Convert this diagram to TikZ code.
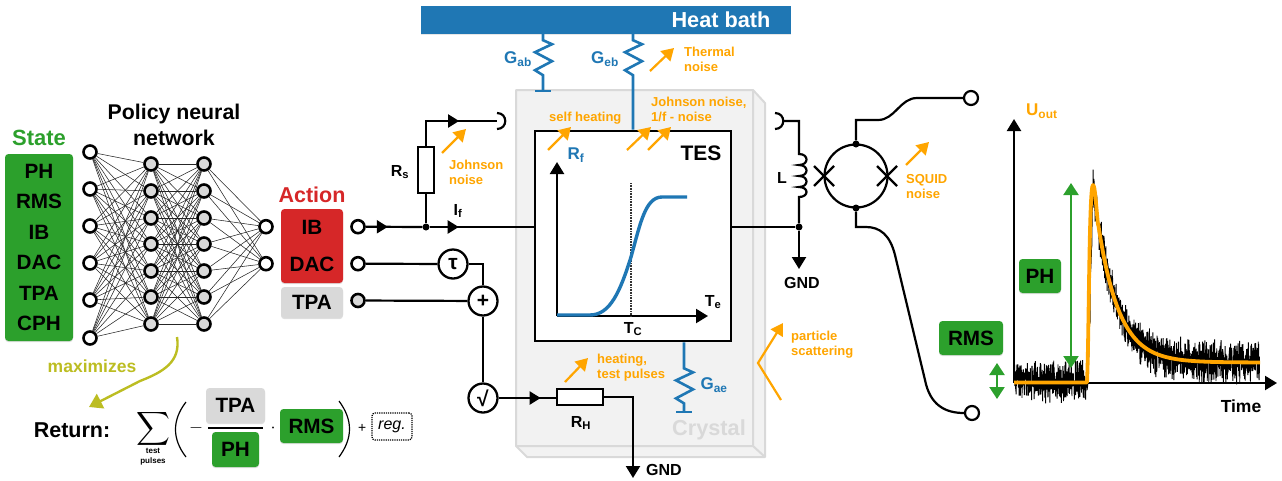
\documentclass[tikz,border=0pt]{standalone}
\usepackage{fontspec}
\setmainfont{Liberation Sans}
\usetikzlibrary{arrows.meta,decorations.markings,shadows,calc}
\definecolor{tgreen}{HTML}{2CA02C}
\definecolor{tred}{HTML}{D62728}
\definecolor{tblue}{HTML}{1F77B4}
\definecolor{tgray}{HTML}{D9D9D9}
\definecolor{tolive}{HTML}{BCBD22}
\definecolor{torange}{HTML}{FFA500}
\definecolor{tcrystal}{HTML}{F2F2F2}
\newcommand{\fsz}[2]{\fontsize{#1}{#2}\selectfont\bfseries}
\tikzset{
  x=1pt,y=-1pt,
  wire/.style={line width=2.2pt,black,line join=miter},
  bwire/.style={line width=2.6pt,tblue},
  neuron/.style={circle,draw=black,line width=2.6pt,fill=white,minimum size=13pt,inner sep=0},
  hneuron/.style={neuron,fill=tgray},
  nnline/.style={line width=.55pt,black!85},
  opnode/.style={circle,draw=black,line width=2.3pt,fill=white,minimum size=29pt,inner sep=0,font=\fsz{21}{21}},
  dotj/.style={circle,fill=black,minimum size=7pt,inner sep=0},
  chip/.style={rounded corners=3.5pt,inner sep=0,text=black,align=center,
     drop shadow={shadow xshift=0pt,shadow yshift=-1.2pt,opacity=.25}},
  gchip/.style={chip,fill=tgreen},
  rchip/.style={chip,fill=tred},
  gychip/.style={chip,fill=tgray},
  tip/.style={-{Triangle[length=12pt,width=14pt]}},
  midtip/.style={postaction={decorate},decoration={markings,mark=at position #1 with {\arrow{Triangle[length=11pt,width=13pt]}}}},
  noisearr/.style={line width=2.2pt,torange,-{Triangle[length=12pt,width=14pt]}},
  otext/.style={text=torange,anchor=west,align=left,inner sep=0,font=\fsz{13}{15.2}},
  btext/.style={text=black,inner sep=0,font=\fsz{16}{18}},
  bluetext/.style={text=tblue,inner sep=0,font=\fsz{17}{18}},
  resbox/.style={draw=black,line width=2.2pt,fill=white,inner sep=0},
  zigres/.style={insert path={-- ++(0,6) -- ++(9,4) -- ++(-17,8) -- ++(17,9) -- ++(-17,9) -- ++(8,5)}},
  garr/.style={line width=2.2pt,tgreen,{Triangle[length=12pt,width=15pt]}-{Triangle[length=12pt,width=15pt]}}
}
\begin{document}
\begin{tikzpicture}
\useasboundingbox (0,0) rectangle (1282,480);
\pgfmathsetseed{4217}

% ---------- crystal
\draw[tgray,line width=2pt,fill=tcrystal,line join=round] (516,90) -- (753,90) -- (765,103) -- (765,457) -- (527,457) -- (516,446) -- cycle;
\draw[tgray,line width=2pt] (516,446) -- (753,446) -- (753,90) (753,446) -- (765,457);
\node[text=tgray,font=\fsz{21.7}{22},inner sep=0] (crystal) at (709,430) {Crystal};

% ---------- heat bath
\node[fill=tblue,minimum width=370pt,minimum height=28pt,inner sep=0,
      drop shadow={shadow xshift=0pt,shadow yshift=-1pt,opacity=.2}] (bath) at (606,20) {};
\node[text=white,font=\fsz{21.7}{22},inner sep=0] (bathlabel) at (721,20) {Heat bath};

% ---------- state and NN
\node[gchip,minimum width=68pt,minimum height=187pt,font=\fsz{20.7}{30.4}] (state) at (39,247.5) {PH\\RMS\\IB\\DAC\\TPA\\CPH};
\node[text=tgreen,font=\fsz{22}{22},inner sep=0] (statelabel) at (39,138) {State};
\node[align=center,font=\fsz{21.3}{26},inner sep=0] (policy) at (174,125) {Policy neural\\network};

\foreach \i/\y in {1/152,2/189,3/226,4/263,5/300,6/338}
  \node[neuron] (a\i) at (90,\y) {};
\foreach \i/\y in {1/164,2/191,3/218,4/244,5/271,6/297,7/324}{
  \node[hneuron] (b\i) at (151,\y) {};
  \node[hneuron] (c\i) at (204,\y) {};
}
\node[neuron] (d1) at (266,226.7) {};
\node[neuron] (d2) at (266,263.7) {};
\foreach \i in {1,...,6}\foreach \j in {1,...,7} \draw[nnline] (a\i) -- (b\j);
\foreach \i in {1,...,7}\foreach \j in {1,...,7} \draw[nnline] (b\i) -- (c\j);
\foreach \i in {1,...,7}\foreach \j in {1,2} \draw[nnline] (c\i) -- (d\j);

% ---------- action
\node[text=tred,font=\fsz{21.5}{22},inner sep=0] (actionlabel) at (312,195) {Action};
\node[rchip,minimum width=62pt,minimum height=74pt,font=\fsz{20.7}{37}] (act) at (312,246) {IB\\DAC};
\node[gychip,minimum width=62pt,minimum height=31pt,font=\fsz{20.7}{21}] (tpa) at (312,302.5) {TPA};
\node[neuron] (t1) at (358,226.7) {};
\node[neuron] (t2) at (358,263.7) {};
\node[hneuron] (t3) at (358,300.5) {};

% ---------- maximizes and return
\node[text=tolive,font=\fsz{17.5}{18},inner sep=0] (maxlabel) at (92,366) {maximizes};
\coordinate (mstart) at (177,337);
\coordinate (mend) at (89,407);
\draw[line width=2.4pt,tolive,-{Triangle[length=13pt,width=16pt]}] (mstart) .. controls (181,362) and (163,372) .. (140,381) -- (mend);
\node[font=\fsz{21.5}{22},inner sep=0] (ret) at (72,430) {Return:};
\node[inner sep=0] (sum) at (153,428.5) {\scalebox{2.35}{$\displaystyle\sum$}};
\node[align=center,font=\fsz{8}{10},inner sep=0] (sumlabel) at (153,457) {test\\pulses};
\coordinate (plt) at (186,402); \coordinate (plb) at (186,457);
\coordinate (prt) at (339,401); \coordinate (prb) at (339,457);
\draw[line width=1.2pt] (plt) .. controls (172,420) and (172,439) .. (plb);
\draw[line width=1.2pt] (prt) .. controls (353,420) and (353,438) .. (prb);
\node[inner sep=0] (minus) at (196,428) {\scalebox{1.8}{$-$}};
\node[gychip,minimum width=59pt,minimum height=35pt,font=\fsz{20.7}{21}] (ftpa) at (235.5,405.5) {TPA};
\node[gchip,minimum width=47pt,minimum height=35pt,font=\fsz{20.7}{21}] (fph) at (235.5,449.5) {PH};
\draw[line width=1.3pt] (ftpa.south west |- 0,428) ++(2,0) coordinate (fb1) -- ($(fb1)+(55,0)$);
\node[inner sep=0] (cdot) at (273,428) {\scalebox{1.8}{$\cdot$}};
\node[gchip,minimum width=63pt,minimum height=34pt,font=\fsz{20.7}{21}] (frms) at (311.5,426) {RMS};
\node[font=\itshape\fontsize{14}{14}\selectfont,inner sep=0] (fplus) at (362,428) {+};
\node[draw=black,densely dotted,line width=1.2pt,rounded corners=3pt,minimum width=40pt,minimum height=27pt,inner sep=0,font=\itshape\fontsize{16}{16}\selectfont] (reg) at (392,426.5) {reg.};

% ---------- input circuit
\node[dotj] (j1) at (426,227) {};
\node[resbox,minimum width=16pt,minimum height=46pt] (rs) at (426,170) {};
\node[btext] (rslabel) at (400,172) {R\textsubscript{s}};
\node[draw=black,line width=2.7pt,fill=white,minimum width=196pt,minimum height=210pt,inner sep=0] (tes) at (633,236) {};
\coordinate (cl) at (497,121);
\coordinate (clt) at (497,113);
\coordinate (clb) at (497,129);
\draw[wire,midtip=22pt] (t1) -- (j1);
\draw[wire,midtip=29pt] (j1) -- (tes.west |- j1);
\draw[wire] (j1) -- (rs.south);
\draw[wire,midtip=58pt] (rs.north) |- (cl);
\draw[wire] (clt) .. controls (508,113) and (508,129) .. (clb);
\node[btext] (iflabel) at (458,211) {I\textsubscript{f}};

\node[opnode] (tau) at (453,264) {τ};
\node[opnode] (plus) at (483,301) {+};
\node[opnode] (root) at (483,398) {√};
\draw[wire] (t2) -- (tau);
\draw[wire] (tau) -| (plus);
\draw[wire] (t3) -- (plus);
\draw[wire] (plus) -- (root);
\node[resbox,minimum width=46pt,minimum height=16pt] (rh) at (580,397) {};
\node[btext] (rhlabel) at (581,423) {R\textsubscript{H}};
\draw[wire,midtip=42pt] (root) -- (rh.west |- root);
\coordinate (gnd2) at (633,478);
\node[btext,anchor=west] (gnd2label) at (646,470) {GND};
\draw[wire,tip] (rh.east) -| (gnd2);

% ---------- thermal links
\coordinate (gabb) at (543,91);
\draw[bwire,line join=miter] (bath.south -| gabb) [zigres] -- (gabb);
\draw[bwire] ([xshift=-8pt]gabb) -- ([xshift=8pt]gabb);
\node[bluetext] (gablabel) at (518,59) {G\textsubscript{ab}};
\coordinate (gebb) at (633,130);
\draw[bwire] (bath.south -| gebb) [zigres] -- (tes.north -| gebb);
\node[bluetext] (geblabel) at (605,59) {G\textsubscript{eb}};
\coordinate (gaeb) at (684,412);
\draw[bwire] (tes.south -| gaeb) -- ++(0,20) [zigres] -- (gaeb);
\draw[bwire] ([xshift=-8pt]gaeb) -- ([xshift=8pt]gaeb);
\node[bluetext] (gaelabel) at (714,385) {G\textsubscript{ae}};

% ---------- TES graph
\node[font=\fsz{21}{21},inner sep=0] (teslabel) at (701,153) {TES};
\node[bluetext] (rflabel) at (576,155) {R\textsubscript{f}};
\coordinate (origin) at (557,316);
\coordinate (ytop) at (557,162);
\coordinate (xtop) at (708,316);
\coordinate (tct) at (631,183);
\draw[wire,tip] (origin) -- (ytop);
\draw[wire,tip] (origin) -- (xtop);
\draw[line width=2.2pt,black!80,dash pattern=on .8pt off .8pt] (tct) -- (tct |- origin);
\draw[line width=3.4pt,tblue] (557,315) -- (590,315) .. controls (610,315) and (620,292) .. (631,257) .. controls (640,225) and (645,197) .. (662,197) -- (687,197);
\node[btext] (telabel) at (713,302) {T\textsubscript{e}};
\node[btext] (tclabel) at (633,329) {T\textsubscript{C}};

% ---------- noise labels
\draw[noisearr] (650,71) -- (674,48);
\node[otext] (lth) at (684,59.5) {Thermal\\noise};
\draw[noisearr] (442,153) -- (466,129);
\node[otext] (ljn) at (449,172.5) {Johnson\\noise};
\draw[noisearr] (548,150) -- (571,127);
\node[otext] (lsh) at (549,118) {self heating};
\draw[noisearr] (627,150) -- (651,127);
\draw[noisearr] (648,150) -- (671,127);
\node[otext] (ljf) at (651,109.5) {Johnson noise,\\1/f - noise};
\draw[noisearr] (906,165) -- (929,142);
\node[otext] (lsq) at (906,186.5) {SQUID\\noise};
\draw[line width=2.2pt,torange,-{Triangle[length=12pt,width=14pt]}] (781,400) -- (758,363) -- (783,323);
\node[otext] (lps) at (791,344.5) {particle\\scattering};
\draw[noisearr] (565,382) -- (588,358);
\node[otext] (lht) at (597,367.5) {heating,\\test pulses};

% ---------- readout
\coordinate (crm) at (783,121);
\coordinate (crt) at (775,113);
\coordinate (crb) at (775,129);
\draw[wire] (crt) .. controls (786,113) and (786,129) .. (crb);
\node[dotj] (j2) at (799,227) {};
\coordinate (gnd1) at (799,269);
\node[btext] (gnd1label) at (802,283) {GND};
\draw[wire] (tes.east |- j2) -- (j2);
\draw[wire,tip] (j2) -- (gnd1);
\draw[wire] (crm) -- (799,121) -- (799,154)
  .. controls (809,154) and (809,165) .. (799,165)
  .. controls (809,165) and (809,176) .. (799,176)
  .. controls (809,176) and (809,187) .. (799,187)
  .. controls (809,187) and (809,197) .. (799,197)
  -- (j2);
\node[btext] (llabel) at (782,178) {L};

\node[circle,draw=black,line width=2.2pt,minimum size=63pt,inner sep=0] (squid) at (856,176) {};
\node[dotj] (jt) at (856,144) {};
\node[dotj] (jb) at (856,208) {};
\foreach \n/\cx in {xl/824,xr/887}{
  \coordinate (\n) at (\cx,176);
  \draw[line width=2.2pt] ([shift={(-10,-10)}]\n) -- ([shift={(10,10)}]\n);
  \draw[line width=2.2pt] ([shift={(-10,10)}]\n) -- ([shift={(10,-10)}]\n);
}
\node[neuron,line width=2.2pt,minimum size=14pt] (t4) at (971,98) {};
\node[neuron,line width=2.2pt,minimum size=14pt] (t5) at (972,413) {};
\draw[wire] (jt) -- (856,120) -- (878,120) .. controls (895,120) and (900,98) .. (917,98) -- (t4);
\draw[wire] (jb) -- (856,227) -- (866,227) .. controls (880,227) and (890,235) .. (895,255) -- (925,380) .. controls (930,405) and (945,413) .. (964,413) -- (t5);

% ---------- pulse plot
\coordinate (po) at (1014,383);
\coordinate (py) at (1014,119);
\coordinate (px) at (1277,383);
\draw[line width=.9pt,black,line join=bevel] plot[domain=1014.5:1259.5,samples=1600]
   (\x,{ (\x<1088 ? 381 : (\x<1093 ? 381-(\x-1088)*39 : 362-177*exp(-(\x-1093)/21))) + 12*(rand+rand) });
\draw[line width=2.2pt,tip] (po) -- (py);
\draw[line width=2.2pt,tip] (po) -- (px);
\draw[line width=3.8pt,torange,line join=round] (1014,382.5) -- (1087,382.5) .. controls (1089,340) and (1089,185) .. (1093,185)
   .. controls (1095,185) and (1096,205) .. (1098,225) -- plot[domain=1098:1260,samples=60] (\x,{362.5-177*exp(-(\x-1093)/21)});
\node[text=torange,inner sep=0,font=\fsz{17}{18},anchor=west] (ulabel) at (1026,111) {U\textsubscript{out}};
\node[btext,font=\fsz{17.5}{18}] (tlabel) at (1241,406) {Time};
\coordinate (pha) at (1071,183); \coordinate (phb) at (1071,368);
\draw[garr] (pha) -- (phb);
\coordinate (rma) at (997,363); \coordinate (rmb) at (997,399);
\draw[garr] (rma) -- (rmb);
\node[gchip,minimum width=42pt,minimum height=34pt,font=\fsz{20.7}{21}] (gph) at (1040,276) {PH};
\node[gchip,minimum width=64pt,minimum height=34pt,font=\fsz{20.7}{21}] (grms) at (971,338) {RMS};
\end{tikzpicture}
\end{document}
